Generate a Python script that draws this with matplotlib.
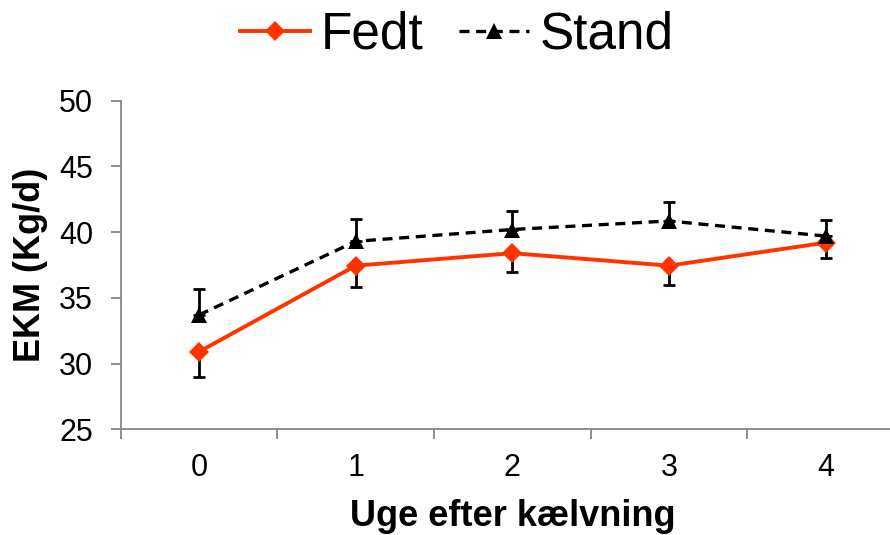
import matplotlib.pyplot as plt

weeks = [0, 1, 2, 3, 4]
fedt = [30.9, 37.45, 38.4, 37.45, 39.2]
fedt_err = [1.9, 1.6, 1.4, 1.45, 1.2]
stand = [33.7, 39.3, 40.2, 40.85, 39.7]
stand_err = [2.0, 1.7, 1.4, 1.45, 1.25]

y_ticks = [25, 30, 35, 40, 45, 50]
x_label = "Uge efter kælvning"
y_label = "EKM (Kg/d)"

red = "#FF3300"
grey = "#868686"


def main():
    plt.rcParams["font.family"] = ["Liberation Sans", "DejaVu Sans"]

    fig = plt.figure(figsize=(8.9, 5.35), dpi=100)
    # axes run past the right edge like the original
    ax = fig.add_axes([120.7 / 890, 105.7 / 535, 783.3 / 890, 328.6 / 535])

    zeros = [0] * len(weeks)
    ax.errorbar(weeks, fedt, yerr=[fedt_err, zeros], fmt="none",
                ecolor="black", elinewidth=2, capsize=4, capthick=2, zorder=2)
    ax.errorbar(weeks, stand, yerr=[zeros, stand_err], fmt="none",
                ecolor="black", elinewidth=2, capsize=4, capthick=2, zorder=2)

    ax.plot(weeks, fedt, color=red, lw=2.8, marker="D", markersize=10.5,
            markeredgewidth=0, label="Fedt", zorder=3)
    ax.plot(weeks, stand, color="black", lw=2.4, ls=(0, (3, 2)), marker="^",
            markersize=12, markeredgewidth=0, label="Stand", zorder=4)

    ax.set_xlim(-0.5, 4.5)
    ax.set_ylim(25, 50)
    ax.set_yticks(y_ticks)
    ax.set_xticks(weeks)
    ax.set_xticks([w - 0.5 for w in weeks], minor=True)

    for side in ["top", "right"]:
        ax.spines[side].set_visible(False)
    for side in ["left", "bottom"]:
        ax.spines[side].set_color(grey)
        ax.spines[side].set_linewidth(1.3)

    ax.tick_params(axis="y", which="major", length=7, width=1.3, color=grey,
                   labelsize=22, pad=13)
    ax.tick_params(axis="x", which="major", length=0, labelsize=22, pad=17)
    ax.tick_params(axis="x", which="minor", length=7, width=1.3, color=grey)

    ax.set_xlabel(x_label, fontsize=26, fontweight="bold")
    ax.xaxis.set_label_coords(0.5, -0.212)
    ax.set_ylabel(y_label, fontsize=26, fontweight="bold")
    ax.yaxis.set_label_coords(-0.093, 0.5)

    fig.legend(loc="center", bbox_to_anchor=(457 / 890, 1 - 35 / 535), ncol=2,
               frameon=False, fontsize=37, handlelength=1.36, handletextpad=0.2,
               columnspacing=0.7, borderaxespad=0)

    fig.savefig("out.png", dpi=100)


if __name__ == "__main__":
    main()
